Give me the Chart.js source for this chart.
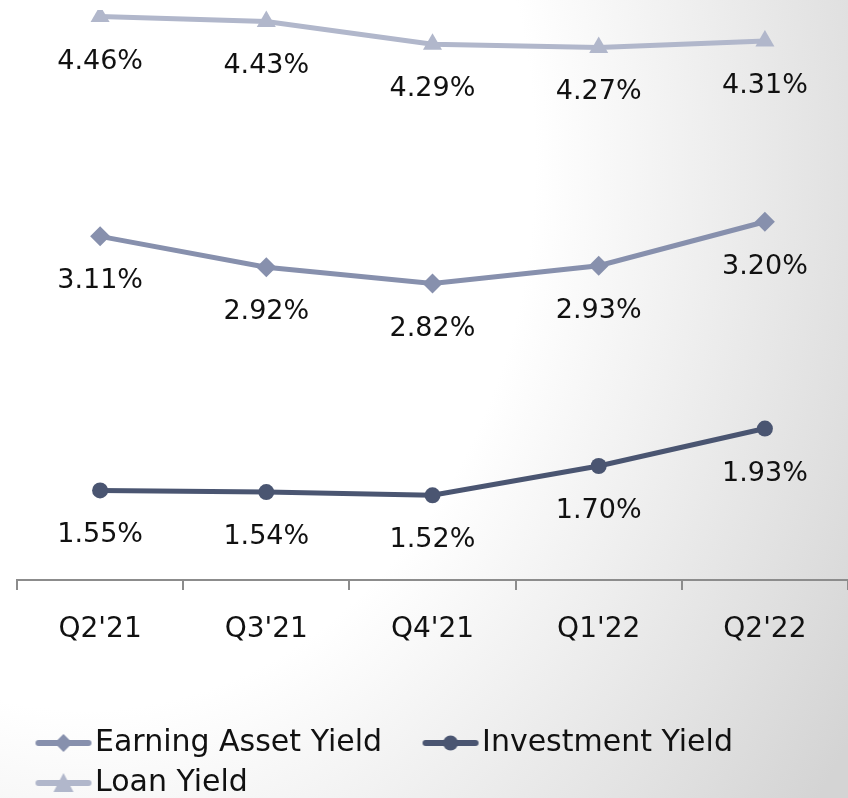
<!DOCTYPE html>
<html>
<head>
<meta charset="utf-8">
<script src="https://cdn.jsdelivr.net/npm/chart.js@4"></script>
<style>
    html, body {
        margin: 0;
        padding: 0;
        width: 848px;
        height: 798px;
        overflow: hidden;
        background: radial-gradient(ellipse 900px 1100px at 85px 160px, #ffffff 50%, #ececec 72%, #d4d4d4 100%);
    }
    #wrap {
        position: relative;
        width: 848px;
        height: 798px;
    }
</style>
</head>
<body>
<div id="wrap"><canvas id="yieldChart"></canvas></div>
<script>
// Donnees du graphique
const quarters = ["Q2'21", "Q3'21", "Q4'21", "Q1'22", "Q2'22"];
const earningAssetYield = [3.11, 2.92, 2.82, 2.93, 3.20];
const investmentYield = [1.55, 1.54, 1.52, 1.70, 1.93];
const loanYield = [4.46, 4.43, 4.29, 4.27, 4.31];

const FONT = "'DejaVu Sans', sans-serif";

// Icone de legende : un trait avec le marqueur au milieu
// (decale vers la droite dans le canvas pour laisser de l'espace entre les items)
function legendIcon(color, style) {
    const c = document.createElement('canvas');
    c.width = 100;
    c.height = 24;
    const g = c.getContext('2d');
    const cx = 71, cy = 12;
    g.strokeStyle = color;
    g.fillStyle = color;
    g.lineWidth = 6;
    g.lineCap = 'round';
    g.beginPath();
    g.moveTo(cx - 25, cy);
    g.lineTo(cx + 25, cy);
    g.stroke();
    g.beginPath();
    if (style === 'rectRot') {
        g.moveTo(cx, cy - 9); g.lineTo(cx + 9, cy); g.lineTo(cx, cy + 9); g.lineTo(cx - 9, cy);
    } else if (style === 'circle') {
        g.arc(cx, cy, 7.5, 0, Math.PI * 2);
    } else {
        g.moveTo(cx, cy - 10); g.lineTo(cx + 10, cy + 9); g.lineTo(cx - 10, cy + 9);
    }
    g.closePath();
    g.fill();
    return c;
}

// Etiquettes de valeur sous chaque point
const valueLabels = {
    id: 'valueLabels',
    afterDatasetsDraw(chart) {
        const ctx = chart.ctx;
        ctx.save();
        ctx.font = '27px ' + FONT;
        ctx.fillStyle = '#111111';
        ctx.textAlign = 'center';
        ctx.textBaseline = 'middle';
        chart.data.datasets.forEach((ds, i) => {
            chart.getDatasetMeta(i).data.forEach((pt, j) => {
                ctx.fillText(ds.data[j].toFixed(2) + '%', pt.x, pt.y + 45);
            });
        });
        ctx.restore();
    }
};

const datasets = [
    { label: 'Earning Asset Yield', data: earningAssetYield, color: '#8790ad', style: 'rectRot', radius: 10 },
    { label: 'Investment Yield', data: investmentYield, color: '#4a5571', style: 'circle', radius: 8 },
    { label: 'Loan Yield', data: loanYield, color: '#b1b7cb', style: 'triangle', radius: 11 }
].map(d => ({
    label: d.label,
    data: d.data,
    borderColor: d.color,
    backgroundColor: d.color,
    borderWidth: 5,
    pointStyle: d.style,
    pointRadius: d.radius,
    pointBorderWidth: 0,
    tension: 0,
    icon: legendIcon(d.color, d.style)
}));

new Chart(document.getElementById('yieldChart'), {
    type: 'line',
    data: { labels: quarters, datasets: datasets },
    options: {
        responsive: true,
        maintainAspectRatio: false,
        animation: false,
        layout: {
            autoPadding: false,
            padding: { left: -5, right: -1, top: 10, bottom: -10 }
        },
        scales: {
            x: {
                offset: true,
                grid: {
                    offset: true,
                    drawOnChartArea: false,
                    drawTicks: true,
                    tickLength: 10,
                    color: '#8c8c8c',
                    lineWidth: 2
                },
                border: { display: true, color: '#8c8c8c', width: 2 },
                ticks: {
                    color: '#111111',
                    font: { family: FONT, size: 28 },
                    padding: 23
                },
                afterFit(scale) {
                    scale.height = 138;
                }
            },
            y: {
                min: 1,
                max: 4.5,
                grid: { display: false },
                border: { display: false },
                ticks: { display: false },
                afterFit(scale) {
                    scale.width = 22;
                }
            }
        },
        plugins: {
            tooltip: { enabled: false },
            legend: {
                position: 'bottom',
                align: 'start',
                labels: {
                    usePointStyle: true,
                    pointStyleWidth: 75,
                    color: '#111111',
                    font: { family: FONT, size: 30 },
                    padding: 10,
                    generateLabels(chart) {
                        return chart.data.datasets.map((ds, i) => ({
                            text: ds.label,
                            pointStyle: ds.icon,
                            fillStyle: ds.borderColor,
                            strokeStyle: ds.borderColor,
                            lineWidth: 0,
                            hidden: false,
                            datasetIndex: i,
                            fontColor: '#111111'
                        }));
                    }
                }
            }
        }
    },
    plugins: [valueLabels]
});
</script>
</body>
</html>
